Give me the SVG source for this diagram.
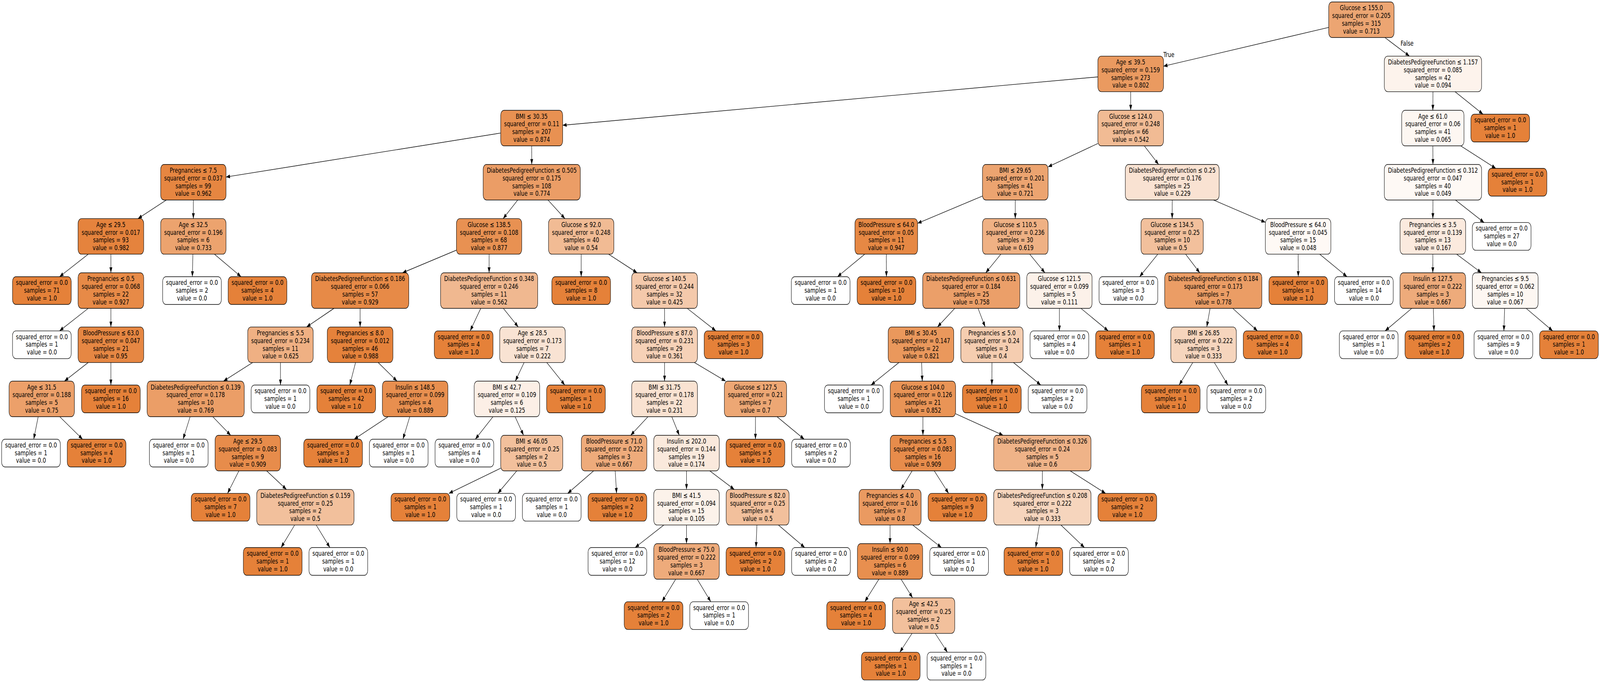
<svg xmlns="http://www.w3.org/2000/svg" width="5656" height="1745" viewBox="0 0 5656 1745" preserveAspectRatio="none">
<style>
@media (max-width:5655px),(max-height:1744px){svg{width:100vw;height:100vh}}
.t{font-family:"DejaVu Sans","Liberation Sans",sans-serif;font-size:18.3px;text-anchor:middle;fill:#000}
.nd rect{stroke:#000;stroke-width:1.4}
.c1{fill:#e58139}
.c0{fill:#ffffff}
#edges line{stroke:#000;stroke-width:1.4;fill:none;marker-end:url(#arr)}
</style>
<defs>
<marker id="arr" viewBox="0 0 14 10" refX="14" refY="5" markerWidth="14" markerHeight="10" markerUnits="userSpaceOnUse" orient="auto"><path d="M0,0 L14,5 L0,10 z" fill="#000"/></marker>
</defs>
<rect x="0" y="0" width="5656" height="1745" fill="#fff"/>
<g id="edges">
<line x1="4697" y1="70.1" x2="4113" y2="169.4"/>
<line x1="4895.6" y1="96" x2="4982.4" y2="143.6"/>
<line x1="3997" y1="234.6" x2="3997" y2="282.2"/>
<line x1="3881" y1="196.7" x2="1989" y2="320.5"/>
<line x1="1770" y1="340.4" x2="799" y2="452.9"/>
<line x1="1879.5" y1="373.2" x2="1879.7" y2="420.8"/>
<line x1="587.8" y1="511.8" x2="487.7" y2="559.4"/>
<line x1="683.5" y1="511.8" x2="683.5" y2="559.4"/>
<line x1="311.9" y1="650.4" x2="210.5" y2="708"/>
<line x1="392" y1="650.4" x2="392" y2="698"/>
<line x1="311.9" y1="789" x2="210.5" y2="846.6"/>
<line x1="392" y1="789" x2="392" y2="836.6"/>
<line x1="311.7" y1="927.6" x2="227.8" y2="975.2"/>
<line x1="392" y1="927.6" x2="392" y2="985.2"/>
<line x1="135" y1="1066.2" x2="119.2" y2="1123.8"/>
<line x1="211.2" y1="1066.2" x2="291.8" y2="1123.8"/>
<line x1="681.9" y1="650.4" x2="679.9" y2="708"/>
<line x1="758" y1="650.4" x2="852.2" y2="708"/>
<line x1="1830.2" y1="511.8" x2="1778.5" y2="559.4"/>
<line x1="1937.1" y1="511.8" x2="1997.1" y2="559.4"/>
<line x1="1613.6" y1="640" x2="1422.7" y2="698"/>
<line x1="1729" y1="650.4" x2="1729" y2="698"/>
<line x1="1180.6" y1="789" x2="1083.8" y2="836.6"/>
<line x1="1273" y1="789" x2="1273" y2="836.6"/>
<line x1="893" y1="927.6" x2="790.1" y2="975.2"/>
<line x1="991.4" y1="927.6" x2="991.5" y2="985.2"/>
<line x1="672.1" y1="1066.2" x2="647.2" y2="1123.8"/>
<line x1="752.2" y1="1066.2" x2="815.5" y2="1113.8"/>
<line x1="844.4" y1="1204.8" x2="804.4" y2="1262.4"/>
<line x1="942.8" y1="1204.8" x2="1012.7" y2="1252.4"/>
<line x1="1041.6" y1="1343.4" x2="993.6" y2="1401"/>
<line x1="1117.7" y1="1343.4" x2="1166.2" y2="1401"/>
<line x1="1256.9" y1="927.6" x2="1236.5" y2="985.2"/>
<line x1="1336.9" y1="927.6" x2="1403.6" y2="975.2"/>
<line x1="1372.3" y1="1066.2" x2="1251.8" y2="1123.8"/>
<line x1="1448.5" y1="1066.2" x2="1424.4" y2="1123.8"/>
<line x1="1699.5" y1="789" x2="1662" y2="846.6"/>
<line x1="1779.3" y1="789" x2="1832" y2="836.6"/>
<line x1="1852.7" y1="927.6" x2="1821.6" y2="975.2"/>
<line x1="1932.8" y1="927.6" x2="1996.6" y2="985.2"/>
<line x1="1742.7" y1="1066.2" x2="1680.2" y2="1123.8"/>
<line x1="1820.8" y1="1066.2" x2="1850.9" y2="1113.8"/>
<line x1="1770" y1="1197.9" x2="1586.8" y2="1262.4"/>
<line x1="1826.8" y1="1204.8" x2="1759.8" y2="1262.4"/>
<line x1="2054.5" y1="650.4" x2="2054.5" y2="708"/>
<line x1="2151.3" y1="650.4" x2="2252.4" y2="698"/>
<line x1="2349.2" y1="789" x2="2349.2" y2="836.6"/>
<line x1="2429.3" y1="789" x2="2530.6" y2="846.6"/>
<line x1="2349.2" y1="927.6" x2="2349.2" y2="975.2"/>
<line x1="2454.7" y1="927.6" x2="2565.1" y2="975.2"/>
<line x1="2290.6" y1="1066.2" x2="2229.4" y2="1113.8"/>
<line x1="2374.7" y1="1066.2" x2="2401.3" y2="1113.8"/>
<line x1="2098.4" y1="1204.8" x2="2006.8" y2="1262.4"/>
<line x1="2174.7" y1="1204.8" x2="2179.6" y2="1262.4"/>
<line x1="2426.8" y1="1204.8" x2="2426.8" y2="1252.4"/>
<line x1="2509.3" y1="1204.8" x2="2595.7" y2="1252.4"/>
<line x1="2346.6" y1="1343.4" x2="2245.1" y2="1401"/>
<line x1="2426.8" y1="1343.4" x2="2426.8" y2="1391"/>
<line x1="2388.6" y1="1482" x2="2340.1" y2="1539.6"/>
<line x1="2464.7" y1="1482" x2="2512.6" y2="1539.6"/>
<line x1="2675.7" y1="1343.4" x2="2672.5" y2="1401"/>
<line x1="2751.7" y1="1343.4" x2="2844.8" y2="1401"/>
<line x1="2670.6" y1="1066.2" x2="2670.5" y2="1123.8"/>
<line x1="2746.6" y1="1066.2" x2="2842.9" y2="1123.8"/>
<line x1="3881" y1="367.1" x2="3705" y2="426.9"/>
<line x1="4045.2" y1="373.2" x2="4095.7" y2="420.8"/>
<line x1="3473" y1="501.6" x2="3243.7" y2="571.3"/>
<line x1="3589" y1="511.8" x2="3589" y2="559.4"/>
<line x1="3056.9" y1="650.4" x2="2960.5" y2="708"/>
<line x1="3133.2" y1="650.4" x2="3133.5" y2="708"/>
<line x1="3537.9" y1="650.4" x2="3484.5" y2="698"/>
<line x1="3640.2" y1="650.4" x2="3693.8" y2="698"/>
<line x1="3375" y1="789" x2="3314" y2="836.6"/>
<line x1="3457.4" y1="789" x2="3482.6" y2="836.6"/>
<line x1="3177.7" y1="927.6" x2="3079.1" y2="985.2"/>
<line x1="3257.9" y1="927.6" x2="3260.2" y2="975.2"/>
<line x1="3262.5" y1="1066.2" x2="3262.5" y2="1113.8"/>
<line x1="3378" y1="1058.6" x2="3546.1" y2="1113.8"/>
<line x1="3224.4" y1="1204.8" x2="3184.5" y2="1252.4"/>
<line x1="3302.6" y1="1204.8" x2="3353.4" y2="1262.4"/>
<line x1="3146.4" y1="1343.4" x2="3146.3" y2="1391"/>
<line x1="3226.5" y1="1343.4" x2="3328" y2="1401"/>
<line x1="3106.9" y1="1482" x2="3057" y2="1539.6"/>
<line x1="3185.3" y1="1482" x2="3226" y2="1529.6"/>
<line x1="3224.1" y1="1620.6" x2="3180.7" y2="1668.9"/>
<line x1="3305.9" y1="1620.6" x2="3349.2" y2="1668.9"/>
<line x1="3684.7" y1="1204.8" x2="3684.7" y2="1252.4"/>
<line x1="3783.3" y1="1204.8" x2="3908.2" y2="1262.4"/>
<line x1="3674.3" y1="1343.4" x2="3661.1" y2="1401"/>
<line x1="3750.4" y1="1343.4" x2="3833.6" y2="1401"/>
<line x1="3506.6" y1="927.6" x2="3506.3" y2="985.2"/>
<line x1="3582.7" y1="927.6" x2="3679.1" y2="985.2"/>
<line x1="3745" y1="789" x2="3745" y2="846.6"/>
<line x1="3821.1" y1="789" x2="3917.5" y2="846.6"/>
<line x1="4143.9" y1="511.8" x2="4143.6" y2="559.4"/>
<line x1="4290" y1="511.8" x2="4473" y2="568.8"/>
<line x1="4092.7" y1="650.4" x2="4028.5" y2="708"/>
<line x1="4191.2" y1="650.4" x2="4241.2" y2="698"/>
<line x1="4277.6" y1="789" x2="4265.9" y2="836.6"/>
<line x1="4357.8" y1="789" x2="4445" y2="846.6"/>
<line x1="4216.5" y1="927.6" x2="4168.2" y2="985.2"/>
<line x1="4292.6" y1="927.6" x2="4340.7" y2="985.2"/>
<line x1="4589" y1="650.4" x2="4589.3" y2="708"/>
<line x1="4665.1" y1="650.4" x2="4761.8" y2="708"/>
<line x1="5065.5" y1="234.6" x2="5065.1" y2="282.2"/>
<line x1="5143.6" y1="234.6" x2="5242.4" y2="292.2"/>
<line x1="5065.1" y1="373.2" x2="5065.5" y2="420.8"/>
<line x1="5163.4" y1="373.2" x2="5287.7" y2="430.8"/>
<line x1="5065.5" y1="511.8" x2="5065.1" y2="559.4"/>
<line x1="5145.2" y1="511.8" x2="5246.2" y2="569.4"/>
<line x1="5065.1" y1="650.4" x2="5065" y2="698"/>
<line x1="5149.1" y1="650.4" x2="5237" y2="698"/>
<line x1="4990.6" y1="789" x2="4896.4" y2="846.6"/>
<line x1="5066.8" y1="789" x2="5069.1" y2="846.6"/>
<line x1="5318.9" y1="789" x2="5316.2" y2="846.6"/>
<line x1="5395" y1="789" x2="5488.6" y2="846.6"/>
<text class="t" x="4132" y="146">True</text>
<text class="t" x="4974" y="117">False</text>
</g>
<g id="nodes" class="nd">
<g id="n0" transform="translate(4812.5,50.5)"><rect x="-115.5" y="-45.5" width="231" height="91" rx="12" fill="#eca572"/><text class="t"><tspan x="0" y="-24.2">Glucose &#8804; 155.0</tspan><tspan x="0" y="-4.4">squared_error = 0.205</tspan><tspan x="0" y="15.4">samples = 315</tspan><tspan x="0" y="35.2">value = 0.713</tspan></text></g>
<g id="n1" transform="translate(3997,189.1)"><rect x="-116" y="-45.5" width="232" height="91" rx="12" fill="#ea9a60"/><text class="t"><tspan x="0" y="-24.2">Age &#8804; 39.5</tspan><tspan x="0" y="-4.4">squared_error = 0.159</tspan><tspan x="0" y="15.4">samples = 273</tspan><tspan x="0" y="35.2">value = 0.802</tspan></text></g>
<g id="n2" transform="translate(1879.5,327.7)"><rect x="-109.5" y="-45.5" width="219" height="91" rx="12" fill="#e89152"/><text class="t"><tspan x="0" y="-24.2">BMI &#8804; 30.35</tspan><tspan x="0" y="-4.4">squared_error = 0.11</tspan><tspan x="0" y="15.4">samples = 207</tspan><tspan x="0" y="35.2">value = 0.874</tspan></text></g>
<g id="n3" transform="translate(683.5,466.3)"><rect x="-115.5" y="-45.5" width="231" height="91" rx="12" fill="#e68641"/><text class="t"><tspan x="0" y="-24.2">Pregnancies &#8804; 7.5</tspan><tspan x="0" y="-4.4">squared_error = 0.037</tspan><tspan x="0" y="15.4">samples = 99</tspan><tspan x="0" y="35.2">value = 0.962</tspan></text></g>
<g id="n4" transform="translate(392,604.9)"><rect x="-116" y="-45.5" width="232" height="91" rx="12" fill="#e5833d"/><text class="t"><tspan x="0" y="-24.2">Age &#8804; 29.5</tspan><tspan x="0" y="-4.4">squared_error = 0.017</tspan><tspan x="0" y="15.4">samples = 93</tspan><tspan x="0" y="35.2">value = 0.982</tspan></text></g>
<g id="n5" transform="translate(148,743.5)"><rect class="c1" x="-103.75" y="-35.5" width="207.5" height="71" rx="12"/><text class="t"><tspan x="0" y="-14.5">squared_error = 0.0</tspan><tspan x="0" y="5.3">samples = 71</tspan><tspan x="0" y="25.1">value = 1.0</tspan></text></g>
<g id="n6" transform="translate(392,743.5)"><rect x="-116" y="-45.5" width="232" height="91" rx="12" fill="#e78a47"/><text class="t"><tspan x="0" y="-24.2">Pregnancies &#8804; 0.5</tspan><tspan x="0" y="-4.4">squared_error = 0.068</tspan><tspan x="0" y="15.4">samples = 22</tspan><tspan x="0" y="35.2">value = 0.927</tspan></text></g>
<g id="n7" transform="translate(148,882.1)"><rect class="c0" x="-103.75" y="-35.5" width="207.5" height="71" rx="12"/><text class="t"><tspan x="0" y="-14.5">squared_error = 0.0</tspan><tspan x="0" y="5.3">samples = 1</tspan><tspan x="0" y="25.1">value = 0.0</tspan></text></g>
<g id="n8" transform="translate(392,882.1)"><rect x="-116" y="-45.5" width="232" height="91" rx="12" fill="#e68743"/><text class="t"><tspan x="0" y="-24.2">BloodPressure &#8804; 63.0</tspan><tspan x="0" y="-4.4">squared_error = 0.047</tspan><tspan x="0" y="15.4">samples = 21</tspan><tspan x="0" y="35.2">value = 0.95</tspan></text></g>
<g id="n9" transform="translate(147.5,1020.7)"><rect x="-115.5" y="-45.5" width="231" height="91" rx="12" fill="#eca06a"/><text class="t"><tspan x="0" y="-24.2">Age &#8804; 31.5</tspan><tspan x="0" y="-4.4">squared_error = 0.188</tspan><tspan x="0" y="15.4">samples = 5</tspan><tspan x="0" y="35.2">value = 0.75</tspan></text></g>
<g id="n10" transform="translate(109.5,1159.3)"><rect class="c0" x="-103.75" y="-35.5" width="207.5" height="71" rx="12"/><text class="t"><tspan x="0" y="-14.5">squared_error = 0.0</tspan><tspan x="0" y="5.3">samples = 1</tspan><tspan x="0" y="25.1">value = 0.0</tspan></text></g>
<g id="n11" transform="translate(341.5,1159.3)"><rect class="c1" x="-103.75" y="-35.5" width="207.5" height="71" rx="12"/><text class="t"><tspan x="0" y="-14.5">squared_error = 0.0</tspan><tspan x="0" y="5.3">samples = 4</tspan><tspan x="0" y="25.1">value = 1.0</tspan></text></g>
<g id="n12" transform="translate(392,1020.7)"><rect class="c1" x="-103.75" y="-35.5" width="207.5" height="71" rx="12"/><text class="t"><tspan x="0" y="-14.5">squared_error = 0.0</tspan><tspan x="0" y="5.3">samples = 16</tspan><tspan x="0" y="25.1">value = 1.0</tspan></text></g>
<g id="n13" transform="translate(683.5,604.9)"><rect x="-115.5" y="-45.5" width="231" height="91" rx="12" fill="#eca36e"/><text class="t"><tspan x="0" y="-24.2">Age &#8804; 32.5</tspan><tspan x="0" y="-4.4">squared_error = 0.196</tspan><tspan x="0" y="15.4">samples = 6</tspan><tspan x="0" y="35.2">value = 0.733</tspan></text></g>
<g id="n14" transform="translate(678.7,743.5)"><rect class="c0" x="-103.75" y="-35.5" width="207.5" height="71" rx="12"/><text class="t"><tspan x="0" y="-14.5">squared_error = 0.0</tspan><tspan x="0" y="5.3">samples = 2</tspan><tspan x="0" y="25.1">value = 0.0</tspan></text></g>
<g id="n15" transform="translate(910.3,743.5)"><rect class="c1" x="-103.75" y="-35.5" width="207.5" height="71" rx="12"/><text class="t"><tspan x="0" y="-14.5">squared_error = 0.0</tspan><tspan x="0" y="5.3">samples = 4</tspan><tspan x="0" y="25.1">value = 1.0</tspan></text></g>
<g id="n16" transform="translate(1879.7,466.3)"><rect x="-171.7" y="-45.5" width="343.4" height="91" rx="12" fill="#eb9d66"/><text class="t"><tspan x="0" y="-24.2">DiabetesPedigreeFunction &#8804; 0.505</tspan><tspan x="0" y="-4.4">squared_error = 0.175</tspan><tspan x="0" y="15.4">samples = 108</tspan><tspan x="0" y="35.2">value = 0.774</tspan></text></g>
<g id="n17" transform="translate(1729,604.9)"><rect x="-115.4" y="-45.5" width="230.8" height="91" rx="12" fill="#e89152"/><text class="t"><tspan x="0" y="-24.2">Glucose &#8804; 138.5</tspan><tspan x="0" y="-4.4">squared_error = 0.108</tspan><tspan x="0" y="15.4">samples = 68</tspan><tspan x="0" y="35.2">value = 0.877</tspan></text></g>
<g id="n18" transform="translate(1273,743.5)"><rect x="-172" y="-45.5" width="344" height="91" rx="12" fill="#e78a47"/><text class="t"><tspan x="0" y="-24.2">DiabetesPedigreeFunction &#8804; 0.186</tspan><tspan x="0" y="-4.4">squared_error = 0.066</tspan><tspan x="0" y="15.4">samples = 57</tspan><tspan x="0" y="35.2">value = 0.929</tspan></text></g>
<g id="n19" transform="translate(991.4,882.1)"><rect x="-115.7" y="-45.5" width="231.4" height="91" rx="12" fill="#efb083"/><text class="t"><tspan x="0" y="-24.2">Pregnancies &#8804; 5.5</tspan><tspan x="0" y="-4.4">squared_error = 0.234</tspan><tspan x="0" y="15.4">samples = 11</tspan><tspan x="0" y="35.2">value = 0.625</tspan></text></g>
<g id="n20" transform="translate(691.7,1020.7)"><rect x="-171.7" y="-45.5" width="343.4" height="91" rx="12" fill="#eb9e67"/><text class="t"><tspan x="0" y="-24.2">DiabetesPedigreeFunction &#8804; 0.139</tspan><tspan x="0" y="-4.4">squared_error = 0.178</tspan><tspan x="0" y="15.4">samples = 10</tspan><tspan x="0" y="35.2">value = 0.769</tspan></text></g>
<g id="n21" transform="translate(631.9,1159.3)"><rect class="c0" x="-103.75" y="-35.5" width="207.5" height="71" rx="12"/><text class="t"><tspan x="0" y="-14.5">squared_error = 0.0</tspan><tspan x="0" y="5.3">samples = 1</tspan><tspan x="0" y="25.1">value = 0.0</tspan></text></g>
<g id="n22" transform="translate(876,1159.3)"><rect x="-115.7" y="-45.5" width="231.4" height="91" rx="12" fill="#e78c4b"/><text class="t"><tspan x="0" y="-24.2">Age &#8804; 29.5</tspan><tspan x="0" y="-4.4">squared_error = 0.083</tspan><tspan x="0" y="15.4">samples = 9</tspan><tspan x="0" y="35.2">value = 0.909</tspan></text></g>
<g id="n23" transform="translate(779.8,1297.9)"><rect class="c1" x="-103.75" y="-35.5" width="207.5" height="71" rx="12"/><text class="t"><tspan x="0" y="-14.5">squared_error = 0.0</tspan><tspan x="0" y="5.3">samples = 7</tspan><tspan x="0" y="25.1">value = 1.0</tspan></text></g>
<g id="n24" transform="translate(1079.5,1297.9)"><rect x="-172" y="-45.5" width="344" height="91" rx="12" fill="#f2c09c"/><text class="t"><tspan x="0" y="-24.2">DiabetesPedigreeFunction &#8804; 0.159</tspan><tspan x="0" y="-4.4">squared_error = 0.25</tspan><tspan x="0" y="15.4">samples = 2</tspan><tspan x="0" y="35.2">value = 0.5</tspan></text></g>
<g id="n25" transform="translate(964,1436.5)"><rect class="c1" x="-103.75" y="-35.5" width="207.5" height="71" rx="12"/><text class="t"><tspan x="0" y="-14.5">squared_error = 0.0</tspan><tspan x="0" y="5.3">samples = 1</tspan><tspan x="0" y="25.1">value = 1.0</tspan></text></g>
<g id="n26" transform="translate(1196,1436.5)"><rect class="c0" x="-103.75" y="-35.5" width="207.5" height="71" rx="12"/><text class="t"><tspan x="0" y="-14.5">squared_error = 0.0</tspan><tspan x="0" y="5.3">samples = 1</tspan><tspan x="0" y="25.1">value = 0.0</tspan></text></g>
<g id="n27" transform="translate(991.5,1020.7)"><rect class="c0" x="-103.75" y="-35.5" width="207.5" height="71" rx="12"/><text class="t"><tspan x="0" y="-14.5">squared_error = 0.0</tspan><tspan x="0" y="5.3">samples = 1</tspan><tspan x="0" y="25.1">value = 0.0</tspan></text></g>
<g id="n28" transform="translate(1273,882.1)"><rect x="-116" y="-45.5" width="232" height="91" rx="12" fill="#e5823b"/><text class="t"><tspan x="0" y="-24.2">Pregnancies &#8804; 8.0</tspan><tspan x="0" y="-4.4">squared_error = 0.012</tspan><tspan x="0" y="15.4">samples = 46</tspan><tspan x="0" y="35.2">value = 0.988</tspan></text></g>
<g id="n29" transform="translate(1224,1020.7)"><rect class="c1" x="-103.75" y="-35.5" width="207.5" height="71" rx="12"/><text class="t"><tspan x="0" y="-14.5">squared_error = 0.0</tspan><tspan x="0" y="5.3">samples = 42</tspan><tspan x="0" y="25.1">value = 1.0</tspan></text></g>
<g id="n30" transform="translate(1467.5,1020.7)"><rect x="-115.8" y="-45.5" width="231.6" height="91" rx="12" fill="#e88f4f"/><text class="t"><tspan x="0" y="-24.2">Insulin &#8804; 148.5</tspan><tspan x="0" y="-4.4">squared_error = 0.099</tspan><tspan x="0" y="15.4">samples = 4</tspan><tspan x="0" y="35.2">value = 0.889</tspan></text></g>
<g id="n31" transform="translate(1177.5,1159.3)"><rect class="c1" x="-103.75" y="-35.5" width="207.5" height="71" rx="12"/><text class="t"><tspan x="0" y="-14.5">squared_error = 0.0</tspan><tspan x="0" y="5.3">samples = 3</tspan><tspan x="0" y="25.1">value = 1.0</tspan></text></g>
<g id="n32" transform="translate(1409.5,1159.3)"><rect class="c0" x="-103.75" y="-35.5" width="207.5" height="71" rx="12"/><text class="t"><tspan x="0" y="-14.5">squared_error = 0.0</tspan><tspan x="0" y="5.3">samples = 1</tspan><tspan x="0" y="25.1">value = 0.0</tspan></text></g>
<g id="n33" transform="translate(1729,743.5)"><rect x="-171.7" y="-45.5" width="343.4" height="91" rx="12" fill="#f0b890"/><text class="t"><tspan x="0" y="-24.2">DiabetesPedigreeFunction &#8804; 0.348</tspan><tspan x="0" y="-4.4">squared_error = 0.246</tspan><tspan x="0" y="15.4">samples = 11</tspan><tspan x="0" y="35.2">value = 0.562</tspan></text></g>
<g id="n34" transform="translate(1639,882.1)"><rect class="c1" x="-103.75" y="-35.5" width="207.5" height="71" rx="12"/><text class="t"><tspan x="0" y="-14.5">squared_error = 0.0</tspan><tspan x="0" y="5.3">samples = 4</tspan><tspan x="0" y="25.1">value = 1.0</tspan></text></g>
<g id="n35" transform="translate(1882.3,882.1)"><rect x="-115.8" y="-45.5" width="231.6" height="91" rx="12" fill="#f9e3d3"/><text class="t"><tspan x="0" y="-24.2">Age &#8804; 28.5</tspan><tspan x="0" y="-4.4">squared_error = 0.173</tspan><tspan x="0" y="15.4">samples = 7</tspan><tspan x="0" y="35.2">value = 0.222</tspan></text></g>
<g id="n36" transform="translate(1792,1020.7)"><rect x="-115.8" y="-45.5" width="231.6" height="91" rx="12" fill="#fcefe6"/><text class="t"><tspan x="0" y="-24.2">BMI &#8804; 42.7</tspan><tspan x="0" y="-4.4">squared_error = 0.109</tspan><tspan x="0" y="15.4">samples = 6</tspan><tspan x="0" y="35.2">value = 0.125</tspan></text></g>
<g id="n37" transform="translate(1641.7,1159.3)"><rect class="c0" x="-103.75" y="-35.5" width="207.5" height="71" rx="12"/><text class="t"><tspan x="0" y="-14.5">squared_error = 0.0</tspan><tspan x="0" y="5.3">samples = 4</tspan><tspan x="0" y="25.1">value = 0.0</tspan></text></g>
<g id="n38" transform="translate(1879.7,1159.3)"><rect x="-109.7" y="-45.5" width="219.4" height="91" rx="12" fill="#f2c09c"/><text class="t"><tspan x="0" y="-24.2">BMI &#8804; 46.05</tspan><tspan x="0" y="-4.4">squared_error = 0.25</tspan><tspan x="0" y="15.4">samples = 2</tspan><tspan x="0" y="35.2">value = 0.5</tspan></text></g>
<g id="n39" transform="translate(1486,1297.9)"><rect class="c1" x="-103.75" y="-35.5" width="207.5" height="71" rx="12"/><text class="t"><tspan x="0" y="-14.5">squared_error = 0.0</tspan><tspan x="0" y="5.3">samples = 1</tspan><tspan x="0" y="25.1">value = 1.0</tspan></text></g>
<g id="n40" transform="translate(1718.5,1297.9)"><rect class="c0" x="-103.75" y="-35.5" width="207.5" height="71" rx="12"/><text class="t"><tspan x="0" y="-14.5">squared_error = 0.0</tspan><tspan x="0" y="5.3">samples = 1</tspan><tspan x="0" y="25.1">value = 0.0</tspan></text></g>
<g id="n41" transform="translate(2036,1020.7)"><rect class="c1" x="-103.75" y="-35.5" width="207.5" height="71" rx="12"/><text class="t"><tspan x="0" y="-14.5">squared_error = 0.0</tspan><tspan x="0" y="5.3">samples = 1</tspan><tspan x="0" y="25.1">value = 1.0</tspan></text></g>
<g id="n42" transform="translate(2054.5,604.9)"><rect x="-115.5" y="-45.5" width="231" height="91" rx="12" fill="#f1bb94"/><text class="t"><tspan x="0" y="-24.2">Glucose &#8804; 92.0</tspan><tspan x="0" y="-4.4">squared_error = 0.248</tspan><tspan x="0" y="15.4">samples = 40</tspan><tspan x="0" y="35.2">value = 0.54</tspan></text></g>
<g id="n43" transform="translate(2054.5,743.5)"><rect class="c1" x="-103.75" y="-35.5" width="207.5" height="71" rx="12"/><text class="t"><tspan x="0" y="-14.5">squared_error = 0.0</tspan><tspan x="0" y="5.3">samples = 8</tspan><tspan x="0" y="25.1">value = 1.0</tspan></text></g>
<g id="n44" transform="translate(2349.2,743.5)"><rect x="-116.2" y="-45.5" width="232.4" height="91" rx="12" fill="#f4c9ab"/><text class="t"><tspan x="0" y="-24.2">Glucose &#8804; 140.5</tspan><tspan x="0" y="-4.4">squared_error = 0.244</tspan><tspan x="0" y="15.4">samples = 32</tspan><tspan x="0" y="35.2">value = 0.425</tspan></text></g>
<g id="n45" transform="translate(2349.2,882.1)"><rect x="-116.2" y="-45.5" width="232.4" height="91" rx="12" fill="#f6d1b7"/><text class="t"><tspan x="0" y="-24.2">BloodPressure &#8804; 87.0</tspan><tspan x="0" y="-4.4">squared_error = 0.231</tspan><tspan x="0" y="15.4">samples = 29</tspan><tspan x="0" y="35.2">value = 0.361</tspan></text></g>
<g id="n46" transform="translate(2349.2,1020.7)"><rect x="-116.2" y="-45.5" width="232.4" height="91" rx="12" fill="#f9e2d1"/><text class="t"><tspan x="0" y="-24.2">BMI &#8804; 31.75</tspan><tspan x="0" y="-4.4">squared_error = 0.178</tspan><tspan x="0" y="15.4">samples = 22</tspan><tspan x="0" y="35.2">value = 0.231</tspan></text></g>
<g id="n47" transform="translate(2170.8,1159.3)"><rect x="-115.8" y="-45.5" width="231.6" height="91" rx="12" fill="#eeab7b"/><text class="t"><tspan x="0" y="-24.2">BloodPressure &#8804; 71.0</tspan><tspan x="0" y="-4.4">squared_error = 0.222</tspan><tspan x="0" y="15.4">samples = 3</tspan><tspan x="0" y="35.2">value = 0.667</tspan></text></g>
<g id="n48" transform="translate(1950.4,1297.9)"><rect class="c0" x="-103.75" y="-35.5" width="207.5" height="71" rx="12"/><text class="t"><tspan x="0" y="-14.5">squared_error = 0.0</tspan><tspan x="0" y="5.3">samples = 1</tspan><tspan x="0" y="25.1">value = 0.0</tspan></text></g>
<g id="n49" transform="translate(2182.6,1297.9)"><rect class="c1" x="-103.75" y="-35.5" width="207.5" height="71" rx="12"/><text class="t"><tspan x="0" y="-14.5">squared_error = 0.0</tspan><tspan x="0" y="5.3">samples = 2</tspan><tspan x="0" y="25.1">value = 1.0</tspan></text></g>
<g id="n50" transform="translate(2426.8,1159.3)"><rect x="-115.8" y="-45.5" width="231.6" height="91" rx="12" fill="#fae9dc"/><text class="t"><tspan x="0" y="-24.2">Insulin &#8804; 202.0</tspan><tspan x="0" y="-4.4">squared_error = 0.144</tspan><tspan x="0" y="15.4">samples = 19</tspan><tspan x="0" y="35.2">value = 0.174</tspan></text></g>
<g id="n51" transform="translate(2426.8,1297.9)"><rect x="-115.8" y="-45.5" width="231.6" height="91" rx="12" fill="#fcf2ea"/><text class="t"><tspan x="0" y="-24.2">BMI &#8804; 41.5</tspan><tspan x="0" y="-4.4">squared_error = 0.094</tspan><tspan x="0" y="15.4">samples = 15</tspan><tspan x="0" y="35.2">value = 0.105</tspan></text></g>
<g id="n52" transform="translate(2182.6,1436.5)"><rect class="c0" x="-103.75" y="-35.5" width="207.5" height="71" rx="12"/><text class="t"><tspan x="0" y="-14.5">squared_error = 0.0</tspan><tspan x="0" y="5.3">samples = 12</tspan><tspan x="0" y="25.1">value = 0.0</tspan></text></g>
<g id="n53" transform="translate(2426.8,1436.5)"><rect x="-115.8" y="-45.5" width="231.6" height="91" rx="12" fill="#eeab7b"/><text class="t"><tspan x="0" y="-24.2">BloodPressure &#8804; 75.0</tspan><tspan x="0" y="-4.4">squared_error = 0.222</tspan><tspan x="0" y="15.4">samples = 3</tspan><tspan x="0" y="35.2">value = 0.667</tspan></text></g>
<g id="n54" transform="translate(2310.3,1575.1)"><rect class="c1" x="-103.75" y="-35.5" width="207.5" height="71" rx="12"/><text class="t"><tspan x="0" y="-14.5">squared_error = 0.0</tspan><tspan x="0" y="5.3">samples = 2</tspan><tspan x="0" y="25.1">value = 1.0</tspan></text></g>
<g id="n55" transform="translate(2542.2,1575.1)"><rect class="c0" x="-103.75" y="-35.5" width="207.5" height="71" rx="12"/><text class="t"><tspan x="0" y="-14.5">squared_error = 0.0</tspan><tspan x="0" y="5.3">samples = 1</tspan><tspan x="0" y="25.1">value = 0.0</tspan></text></g>
<g id="n56" transform="translate(2678.2,1297.9)"><rect x="-111.2" y="-45.5" width="222.4" height="91" rx="12" fill="#f2c09c"/><text class="t"><tspan x="0" y="-24.2">BloodPressure &#8804; 82.0</tspan><tspan x="0" y="-4.4">squared_error = 0.25</tspan><tspan x="0" y="15.4">samples = 4</tspan><tspan x="0" y="35.2">value = 0.5</tspan></text></g>
<g id="n57" transform="translate(2670.5,1436.5)"><rect class="c1" x="-103.75" y="-35.5" width="207.5" height="71" rx="12"/><text class="t"><tspan x="0" y="-14.5">squared_error = 0.0</tspan><tspan x="0" y="5.3">samples = 2</tspan><tspan x="0" y="25.1">value = 1.0</tspan></text></g>
<g id="n58" transform="translate(2902.2,1436.5)"><rect class="c0" x="-103.75" y="-35.5" width="207.5" height="71" rx="12"/><text class="t"><tspan x="0" y="-14.5">squared_error = 0.0</tspan><tspan x="0" y="5.3">samples = 2</tspan><tspan x="0" y="25.1">value = 0.0</tspan></text></g>
<g id="n59" transform="translate(2670.6,1020.7)"><rect x="-110" y="-45.5" width="220" height="91" rx="12" fill="#eda774"/><text class="t"><tspan x="0" y="-24.2">Glucose &#8804; 127.5</tspan><tspan x="0" y="-4.4">squared_error = 0.21</tspan><tspan x="0" y="15.4">samples = 7</tspan><tspan x="0" y="35.2">value = 0.7</tspan></text></g>
<g id="n60" transform="translate(2670.5,1159.3)"><rect class="c1" x="-103.75" y="-35.5" width="207.5" height="71" rx="12"/><text class="t"><tspan x="0" y="-14.5">squared_error = 0.0</tspan><tspan x="0" y="5.3">samples = 5</tspan><tspan x="0" y="25.1">value = 1.0</tspan></text></g>
<g id="n61" transform="translate(2902.2,1159.3)"><rect class="c0" x="-103.75" y="-35.5" width="207.5" height="71" rx="12"/><text class="t"><tspan x="0" y="-14.5">squared_error = 0.0</tspan><tspan x="0" y="5.3">samples = 2</tspan><tspan x="0" y="25.1">value = 0.0</tspan></text></g>
<g id="n62" transform="translate(2593.1,882.1)"><rect class="c1" x="-103.75" y="-35.5" width="207.5" height="71" rx="12"/><text class="t"><tspan x="0" y="-14.5">squared_error = 0.0</tspan><tspan x="0" y="5.3">samples = 3</tspan><tspan x="0" y="25.1">value = 1.0</tspan></text></g>
<g id="n63" transform="translate(3997,327.7)"><rect x="-116" y="-45.5" width="232" height="91" rx="12" fill="#f1bb94"/><text class="t"><tspan x="0" y="-24.2">Glucose &#8804; 124.0</tspan><tspan x="0" y="-4.4">squared_error = 0.248</tspan><tspan x="0" y="15.4">samples = 66</tspan><tspan x="0" y="35.2">value = 0.542</tspan></text></g>
<g id="n64" transform="translate(3589,466.3)"><rect x="-116" y="-45.5" width="232" height="91" rx="12" fill="#eca470"/><text class="t"><tspan x="0" y="-24.2">BMI &#8804; 29.65</tspan><tspan x="0" y="-4.4">squared_error = 0.201</tspan><tspan x="0" y="15.4">samples = 41</tspan><tspan x="0" y="35.2">value = 0.721</tspan></text></g>
<g id="n65" transform="translate(3133,604.9)"><rect x="-110.7" y="-45.5" width="221.4" height="91" rx="12" fill="#e68844"/><text class="t"><tspan x="0" y="-24.2">BloodPressure &#8804; 64.0</tspan><tspan x="0" y="-4.4">squared_error = 0.05</tspan><tspan x="0" y="15.4">samples = 11</tspan><tspan x="0" y="35.2">value = 0.947</tspan></text></g>
<g id="n66" transform="translate(2901.1,743.5)"><rect class="c0" x="-103.75" y="-35.5" width="207.5" height="71" rx="12"/><text class="t"><tspan x="0" y="-14.5">squared_error = 0.0</tspan><tspan x="0" y="5.3">samples = 1</tspan><tspan x="0" y="25.1">value = 0.0</tspan></text></g>
<g id="n67" transform="translate(3133.7,743.5)"><rect class="c1" x="-103.75" y="-35.5" width="207.5" height="71" rx="12"/><text class="t"><tspan x="0" y="-14.5">squared_error = 0.0</tspan><tspan x="0" y="5.3">samples = 10</tspan><tspan x="0" y="25.1">value = 1.0</tspan></text></g>
<g id="n68" transform="translate(3589,604.9)"><rect x="-116" y="-45.5" width="232" height="91" rx="12" fill="#efb184"/><text class="t"><tspan x="0" y="-24.2">Glucose &#8804; 110.5</tspan><tspan x="0" y="-4.4">squared_error = 0.236</tspan><tspan x="0" y="15.4">samples = 30</tspan><tspan x="0" y="35.2">value = 0.619</tspan></text></g>
<g id="n69" transform="translate(3433.4,743.5)"><rect x="-171.7" y="-45.5" width="343.4" height="91" rx="12" fill="#eb9f69"/><text class="t"><tspan x="0" y="-24.2">DiabetesPedigreeFunction &#8804; 0.631</tspan><tspan x="0" y="-4.4">squared_error = 0.184</tspan><tspan x="0" y="15.4">samples = 25</tspan><tspan x="0" y="35.2">value = 0.758</tspan></text></g>
<g id="n70" transform="translate(3255.6,882.1)"><rect x="-115.8" y="-45.5" width="231.6" height="91" rx="12" fill="#ea985c"/><text class="t"><tspan x="0" y="-24.2">BMI &#8804; 30.45</tspan><tspan x="0" y="-4.4">squared_error = 0.147</tspan><tspan x="0" y="15.4">samples = 22</tspan><tspan x="0" y="35.2">value = 0.821</tspan></text></g>
<g id="n71" transform="translate(3018.3,1020.7)"><rect class="c0" x="-103.75" y="-35.5" width="207.5" height="71" rx="12"/><text class="t"><tspan x="0" y="-14.5">squared_error = 0.0</tspan><tspan x="0" y="5.3">samples = 1</tspan><tspan x="0" y="25.1">value = 0.0</tspan></text></g>
<g id="n72" transform="translate(3262.5,1020.7)"><rect x="-115.5" y="-45.5" width="231" height="91" rx="12" fill="#e99456"/><text class="t"><tspan x="0" y="-24.2">Glucose &#8804; 104.0</tspan><tspan x="0" y="-4.4">squared_error = 0.126</tspan><tspan x="0" y="15.4">samples = 21</tspan><tspan x="0" y="35.2">value = 0.852</tspan></text></g>
<g id="n73" transform="translate(3262.5,1159.3)"><rect x="-115.5" y="-45.5" width="231" height="91" rx="12" fill="#e78c4b"/><text class="t"><tspan x="0" y="-24.2">Pregnancies &#8804; 5.5</tspan><tspan x="0" y="-4.4">squared_error = 0.083</tspan><tspan x="0" y="15.4">samples = 16</tspan><tspan x="0" y="35.2">value = 0.909</tspan></text></g>
<g id="n74" transform="translate(3146.4,1297.9)"><rect x="-109.7" y="-45.5" width="219.4" height="91" rx="12" fill="#ea9a61"/><text class="t"><tspan x="0" y="-24.2">Pregnancies &#8804; 4.0</tspan><tspan x="0" y="-4.4">squared_error = 0.16</tspan><tspan x="0" y="15.4">samples = 7</tspan><tspan x="0" y="35.2">value = 0.8</tspan></text></g>
<g id="n75" transform="translate(3146.3,1436.5)"><rect x="-115.3" y="-45.5" width="230.6" height="91" rx="12" fill="#e88f4f"/><text class="t"><tspan x="0" y="-24.2">Insulin &#8804; 90.0</tspan><tspan x="0" y="-4.4">squared_error = 0.099</tspan><tspan x="0" y="15.4">samples = 6</tspan><tspan x="0" y="35.2">value = 0.889</tspan></text></g>
<g id="n76" transform="translate(3026.2,1575.1)"><rect class="c1" x="-103.75" y="-35.5" width="207.5" height="71" rx="12"/><text class="t"><tspan x="0" y="-14.5">squared_error = 0.0</tspan><tspan x="0" y="5.3">samples = 4</tspan><tspan x="0" y="25.1">value = 1.0</tspan></text></g>
<g id="n77" transform="translate(3265,1575.1)"><rect x="-110" y="-45.5" width="220" height="91" rx="12" fill="#f2c09c"/><text class="t"><tspan x="0" y="-24.2">Age &#8804; 42.5</tspan><tspan x="0" y="-4.4">squared_error = 0.25</tspan><tspan x="0" y="15.4">samples = 2</tspan><tspan x="0" y="35.2">value = 0.5</tspan></text></g>
<g id="n78" transform="translate(3148.8,1704.4)"><rect class="c1" x="-103.75" y="-35.5" width="207.5" height="71" rx="12"/><text class="t"><tspan x="0" y="-14.5">squared_error = 0.0</tspan><tspan x="0" y="5.3">samples = 1</tspan><tspan x="0" y="25.1">value = 1.0</tspan></text></g>
<g id="n79" transform="translate(3381.1,1704.4)"><rect class="c0" x="-103.75" y="-35.5" width="207.5" height="71" rx="12"/><text class="t"><tspan x="0" y="-14.5">squared_error = 0.0</tspan><tspan x="0" y="5.3">samples = 1</tspan><tspan x="0" y="25.1">value = 0.0</tspan></text></g>
<g id="n80" transform="translate(3390.5,1436.5)"><rect class="c0" x="-103.75" y="-35.5" width="207.5" height="71" rx="12"/><text class="t"><tspan x="0" y="-14.5">squared_error = 0.0</tspan><tspan x="0" y="5.3">samples = 1</tspan><tspan x="0" y="25.1">value = 0.0</tspan></text></g>
<g id="n81" transform="translate(3384.7,1297.9)"><rect class="c1" x="-103.75" y="-35.5" width="207.5" height="71" rx="12"/><text class="t"><tspan x="0" y="-14.5">squared_error = 0.0</tspan><tspan x="0" y="5.3">samples = 9</tspan><tspan x="0" y="25.1">value = 1.0</tspan></text></g>
<g id="n82" transform="translate(3684.7,1159.3)"><rect x="-172" y="-45.5" width="344" height="91" rx="12" fill="#efb388"/><text class="t"><tspan x="0" y="-24.2">DiabetesPedigreeFunction &#8804; 0.326</tspan><tspan x="0" y="-4.4">squared_error = 0.24</tspan><tspan x="0" y="15.4">samples = 5</tspan><tspan x="0" y="35.2">value = 0.6</tspan></text></g>
<g id="n83" transform="translate(3684.7,1297.9)"><rect x="-172" y="-45.5" width="344" height="91" rx="12" fill="#f6d5bd"/><text class="t"><tspan x="0" y="-24.2">DiabetesPedigreeFunction &#8804; 0.208</tspan><tspan x="0" y="-4.4">squared_error = 0.222</tspan><tspan x="0" y="15.4">samples = 3</tspan><tspan x="0" y="35.2">value = 0.333</tspan></text></g>
<g id="n84" transform="translate(3653,1436.5)"><rect class="c1" x="-103.75" y="-35.5" width="207.5" height="71" rx="12"/><text class="t"><tspan x="0" y="-14.5">squared_error = 0.0</tspan><tspan x="0" y="5.3">samples = 1</tspan><tspan x="0" y="25.1">value = 1.0</tspan></text></g>
<g id="n85" transform="translate(3884.9,1436.5)"><rect class="c0" x="-103.75" y="-35.5" width="207.5" height="71" rx="12"/><text class="t"><tspan x="0" y="-14.5">squared_error = 0.0</tspan><tspan x="0" y="5.3">samples = 2</tspan><tspan x="0" y="25.1">value = 0.0</tspan></text></g>
<g id="n86" transform="translate(3985.1,1297.9)"><rect class="c1" x="-103.75" y="-35.5" width="207.5" height="71" rx="12"/><text class="t"><tspan x="0" y="-14.5">squared_error = 0.0</tspan><tspan x="0" y="5.3">samples = 2</tspan><tspan x="0" y="25.1">value = 1.0</tspan></text></g>
<g id="n87" transform="translate(3506.6,882.1)"><rect x="-110" y="-45.5" width="220" height="91" rx="12" fill="#f5cdb0"/><text class="t"><tspan x="0" y="-24.2">Pregnancies &#8804; 5.0</tspan><tspan x="0" y="-4.4">squared_error = 0.24</tspan><tspan x="0" y="15.4">samples = 3</tspan><tspan x="0" y="35.2">value = 0.4</tspan></text></g>
<g id="n88" transform="translate(3506.2,1020.7)"><rect class="c1" x="-103.75" y="-35.5" width="207.5" height="71" rx="12"/><text class="t"><tspan x="0" y="-14.5">squared_error = 0.0</tspan><tspan x="0" y="5.3">samples = 1</tspan><tspan x="0" y="25.1">value = 1.0</tspan></text></g>
<g id="n89" transform="translate(3738.5,1020.7)"><rect class="c0" x="-103.75" y="-35.5" width="207.5" height="71" rx="12"/><text class="t"><tspan x="0" y="-14.5">squared_error = 0.0</tspan><tspan x="0" y="5.3">samples = 2</tspan><tspan x="0" y="25.1">value = 0.0</tspan></text></g>
<g id="n90" transform="translate(3745,743.5)"><rect x="-115.4" y="-45.5" width="230.8" height="91" rx="12" fill="#fcf1e9"/><text class="t"><tspan x="0" y="-24.2">Glucose &#8804; 121.5</tspan><tspan x="0" y="-4.4">squared_error = 0.099</tspan><tspan x="0" y="15.4">samples = 5</tspan><tspan x="0" y="35.2">value = 0.111</tspan></text></g>
<g id="n91" transform="translate(3745,882.1)"><rect class="c0" x="-103.75" y="-35.5" width="207.5" height="71" rx="12"/><text class="t"><tspan x="0" y="-14.5">squared_error = 0.0</tspan><tspan x="0" y="5.3">samples = 4</tspan><tspan x="0" y="25.1">value = 0.0</tspan></text></g>
<g id="n92" transform="translate(3976.9,882.1)"><rect class="c1" x="-103.75" y="-35.5" width="207.5" height="71" rx="12"/><text class="t"><tspan x="0" y="-14.5">squared_error = 0.0</tspan><tspan x="0" y="5.3">samples = 1</tspan><tspan x="0" y="25.1">value = 1.0</tspan></text></g>
<g id="n93" transform="translate(4143.9,466.3)"><rect x="-165.9" y="-45.5" width="331.8" height="91" rx="12" fill="#f9e2d2"/><text class="t"><tspan x="0" y="-24.2">DiabetesPedigreeFunction &#8804; 0.25</tspan><tspan x="0" y="-4.4">squared_error = 0.176</tspan><tspan x="0" y="15.4">samples = 25</tspan><tspan x="0" y="35.2">value = 0.229</tspan></text></g>
<g id="n94" transform="translate(4143.5,604.9)"><rect x="-110" y="-45.5" width="220" height="91" rx="12" fill="#f2c09c"/><text class="t"><tspan x="0" y="-24.2">Glucose &#8804; 134.5</tspan><tspan x="0" y="-4.4">squared_error = 0.25</tspan><tspan x="0" y="15.4">samples = 10</tspan><tspan x="0" y="35.2">value = 0.5</tspan></text></g>
<g id="n95" transform="translate(3988.9,743.5)"><rect class="c0" x="-103.75" y="-35.5" width="207.5" height="71" rx="12"/><text class="t"><tspan x="0" y="-14.5">squared_error = 0.0</tspan><tspan x="0" y="5.3">samples = 3</tspan><tspan x="0" y="25.1">value = 0.0</tspan></text></g>
<g id="n96" transform="translate(4288.9,743.5)"><rect x="-171.7" y="-45.5" width="343.4" height="91" rx="12" fill="#eb9d65"/><text class="t"><tspan x="0" y="-24.2">DiabetesPedigreeFunction &#8804; 0.184</tspan><tspan x="0" y="-4.4">squared_error = 0.173</tspan><tspan x="0" y="15.4">samples = 7</tspan><tspan x="0" y="35.2">value = 0.778</tspan></text></g>
<g id="n97" transform="translate(4254.6,882.1)"><rect x="-115.8" y="-45.5" width="231.6" height="91" rx="12" fill="#f6d5bd"/><text class="t"><tspan x="0" y="-24.2">BMI &#8804; 26.85</tspan><tspan x="0" y="-4.4">squared_error = 0.222</tspan><tspan x="0" y="15.4">samples = 3</tspan><tspan x="0" y="35.2">value = 0.333</tspan></text></g>
<g id="n98" transform="translate(4138.5,1020.7)"><rect class="c1" x="-103.75" y="-35.5" width="207.5" height="71" rx="12"/><text class="t"><tspan x="0" y="-14.5">squared_error = 0.0</tspan><tspan x="0" y="5.3">samples = 1</tspan><tspan x="0" y="25.1">value = 1.0</tspan></text></g>
<g id="n99" transform="translate(4370.4,1020.7)"><rect class="c0" x="-103.75" y="-35.5" width="207.5" height="71" rx="12"/><text class="t"><tspan x="0" y="-14.5">squared_error = 0.0</tspan><tspan x="0" y="5.3">samples = 2</tspan><tspan x="0" y="25.1">value = 0.0</tspan></text></g>
<g id="n100" transform="translate(4498.8,882.1)"><rect class="c1" x="-103.75" y="-35.5" width="207.5" height="71" rx="12"/><text class="t"><tspan x="0" y="-14.5">squared_error = 0.0</tspan><tspan x="0" y="5.3">samples = 4</tspan><tspan x="0" y="25.1">value = 1.0</tspan></text></g>
<g id="n101" transform="translate(4588.8,604.9)"><rect x="-115.8" y="-45.5" width="231.6" height="91" rx="12" fill="#fef9f5"/><text class="t"><tspan x="0" y="-24.2">BloodPressure &#8804; 64.0</tspan><tspan x="0" y="-4.4">squared_error = 0.045</tspan><tspan x="0" y="15.4">samples = 15</tspan><tspan x="0" y="35.2">value = 0.048</tspan></text></g>
<g id="n102" transform="translate(4589.5,743.5)"><rect class="c1" x="-103.75" y="-35.5" width="207.5" height="71" rx="12"/><text class="t"><tspan x="0" y="-14.5">squared_error = 0.0</tspan><tspan x="0" y="5.3">samples = 1</tspan><tspan x="0" y="25.1">value = 1.0</tspan></text></g>
<g id="n103" transform="translate(4821.3,743.5)"><rect class="c0" x="-103.75" y="-35.5" width="207.5" height="71" rx="12"/><text class="t"><tspan x="0" y="-14.5">squared_error = 0.0</tspan><tspan x="0" y="5.3">samples = 14</tspan><tspan x="0" y="25.1">value = 0.0</tspan></text></g>
<g id="n104" transform="translate(5065.5,189.1)"><rect x="-171.9" y="-45.5" width="343.8" height="91" rx="12" fill="#fdf3ec"/><text class="t"><tspan x="0" y="-24.2">DiabetesPedigreeFunction &#8804; 1.157</tspan><tspan x="0" y="-4.4">squared_error = 0.085</tspan><tspan x="0" y="15.4">samples = 42</tspan><tspan x="0" y="35.2">value = 0.094</tspan></text></g>
<g id="n105" transform="translate(5065.1,327.7)"><rect x="-110.1" y="-45.5" width="220.2" height="91" rx="12" fill="#fdf7f2"/><text class="t"><tspan x="0" y="-24.2">Age &#8804; 61.0</tspan><tspan x="0" y="-4.4">squared_error = 0.06</tspan><tspan x="0" y="15.4">samples = 41</tspan><tspan x="0" y="35.2">value = 0.065</tspan></text></g>
<g id="n106" transform="translate(5065.5,466.3)"><rect x="-171.9" y="-45.5" width="343.8" height="91" rx="12" fill="#fef9f5"/><text class="t"><tspan x="0" y="-24.2">DiabetesPedigreeFunction &#8804; 0.312</tspan><tspan x="0" y="-4.4">squared_error = 0.047</tspan><tspan x="0" y="15.4">samples = 40</tspan><tspan x="0" y="35.2">value = 0.049</tspan></text></g>
<g id="n107" transform="translate(5065.1,604.9)"><rect x="-115.9" y="-45.5" width="231.8" height="91" rx="12" fill="#fbeade"/><text class="t"><tspan x="0" y="-24.2">Pregnancies &#8804; 3.5</tspan><tspan x="0" y="-4.4">squared_error = 0.139</tspan><tspan x="0" y="15.4">samples = 13</tspan><tspan x="0" y="35.2">value = 0.167</tspan></text></g>
<g id="n108" transform="translate(5065,743.5)"><rect x="-116" y="-45.5" width="232" height="91" rx="12" fill="#eeab7b"/><text class="t"><tspan x="0" y="-24.2">Insulin &#8804; 127.5</tspan><tspan x="0" y="-4.4">squared_error = 0.222</tspan><tspan x="0" y="15.4">samples = 3</tspan><tspan x="0" y="35.2">value = 0.667</tspan></text></g>
<g id="n109" transform="translate(4838.4,882.1)"><rect class="c0" x="-103.75" y="-35.5" width="207.5" height="71" rx="12"/><text class="t"><tspan x="0" y="-14.5">squared_error = 0.0</tspan><tspan x="0" y="5.3">samples = 1</tspan><tspan x="0" y="25.1">value = 0.0</tspan></text></g>
<g id="n110" transform="translate(5070.5,882.1)"><rect class="c1" x="-103.75" y="-35.5" width="207.5" height="71" rx="12"/><text class="t"><tspan x="0" y="-14.5">squared_error = 0.0</tspan><tspan x="0" y="5.3">samples = 2</tspan><tspan x="0" y="25.1">value = 1.0</tspan></text></g>
<g id="n111" transform="translate(5321,743.5)"><rect x="-116.2" y="-45.5" width="232.4" height="91" rx="12" fill="#fdf7f2"/><text class="t"><tspan x="0" y="-24.2">Pregnancies &#8804; 9.5</tspan><tspan x="0" y="-4.4">squared_error = 0.062</tspan><tspan x="0" y="15.4">samples = 10</tspan><tspan x="0" y="35.2">value = 0.067</tspan></text></g>
<g id="n112" transform="translate(5314.6,882.1)"><rect class="c0" x="-103.75" y="-35.5" width="207.5" height="71" rx="12"/><text class="t"><tspan x="0" y="-14.5">squared_error = 0.0</tspan><tspan x="0" y="5.3">samples = 9</tspan><tspan x="0" y="25.1">value = 0.0</tspan></text></g>
<g id="n113" transform="translate(5546.3,882.1)"><rect class="c1" x="-103.75" y="-35.5" width="207.5" height="71" rx="12"/><text class="t"><tspan x="0" y="-14.5">squared_error = 0.0</tspan><tspan x="0" y="5.3">samples = 1</tspan><tspan x="0" y="25.1">value = 1.0</tspan></text></g>
<g id="n114" transform="translate(5308.4,604.9)"><rect class="c0" x="-103.75" y="-35.5" width="207.5" height="71" rx="12"/><text class="t"><tspan x="0" y="-14.5">squared_error = 0.0</tspan><tspan x="0" y="5.3">samples = 27</tspan><tspan x="0" y="25.1">value = 0.0</tspan></text></g>
<g id="n115" transform="translate(5364.4,466.3)"><rect class="c1" x="-103.75" y="-35.5" width="207.5" height="71" rx="12"/><text class="t"><tspan x="0" y="-14.5">squared_error = 0.0</tspan><tspan x="0" y="5.3">samples = 1</tspan><tspan x="0" y="25.1">value = 1.0</tspan></text></g>
<g id="n116" transform="translate(5303.3,327.7)"><rect class="c1" x="-103.75" y="-35.5" width="207.5" height="71" rx="12"/><text class="t"><tspan x="0" y="-14.5">squared_error = 0.0</tspan><tspan x="0" y="5.3">samples = 1</tspan><tspan x="0" y="25.1">value = 1.0</tspan></text></g>
</g>
</svg>
